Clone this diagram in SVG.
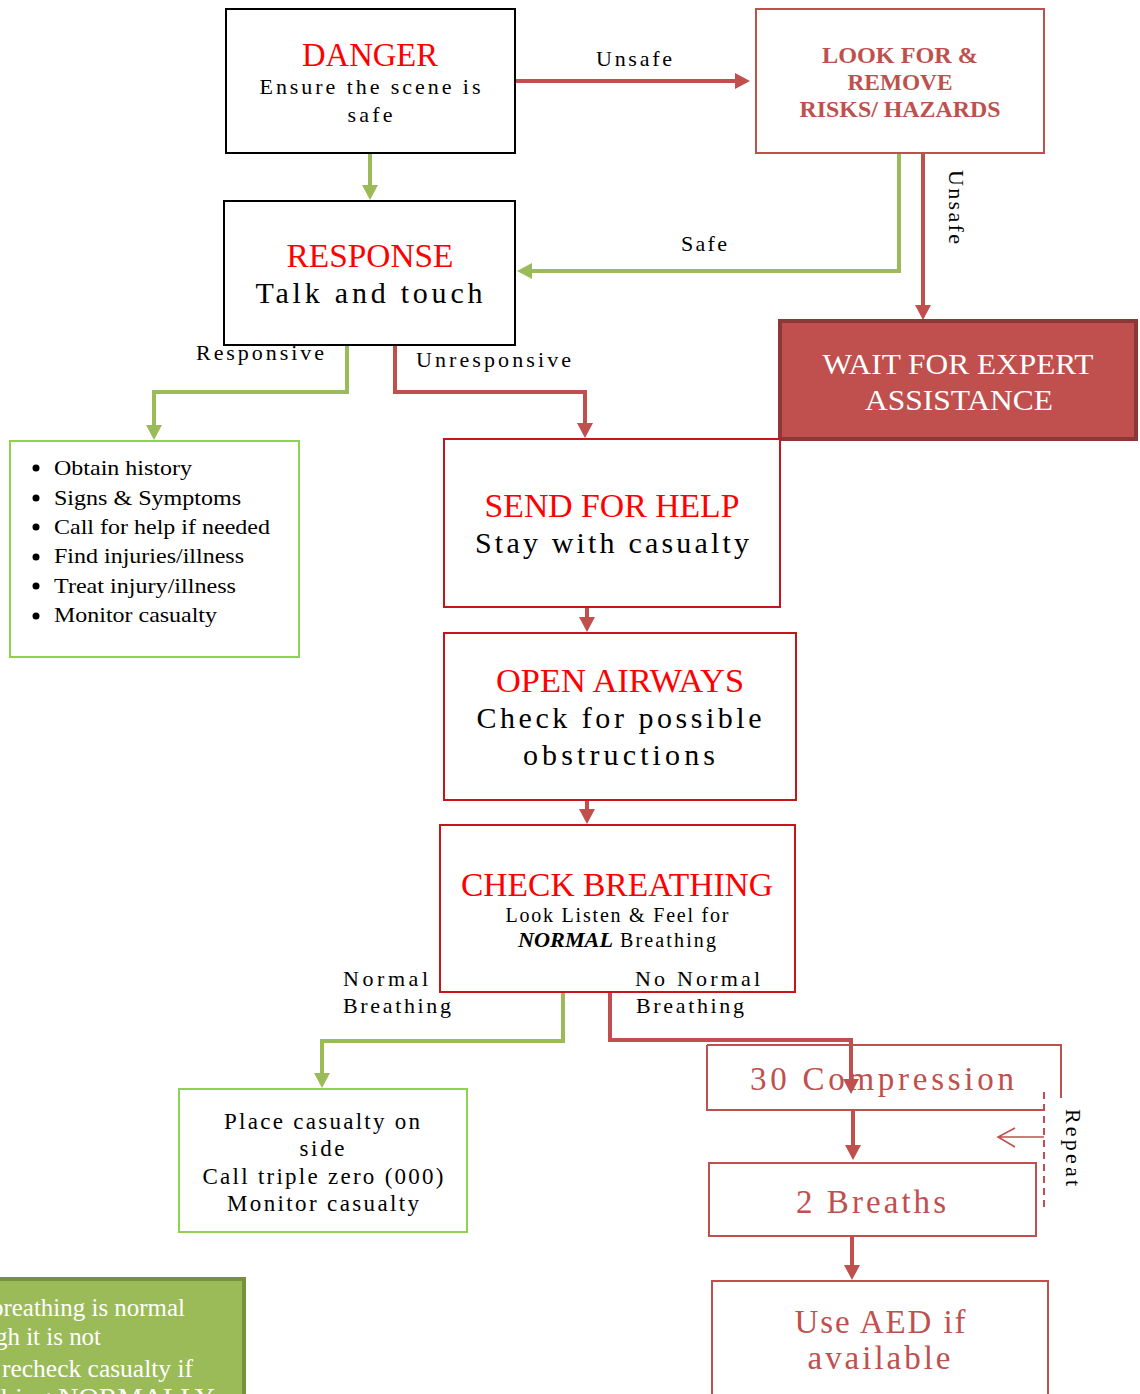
<svg xmlns="http://www.w3.org/2000/svg" width="1140" height="1394" viewBox="0 0 1140 1394">
<style>
text{font-family:"Liberation Serif","Times New Roman",serif;}
.box{fill:#fff;stroke-width:2;}
.blk{stroke:#000;}
.red{stroke:#C8141B;}
.mred{stroke:#C0504D;}
.grn{stroke:#92D050;}
.ttl{fill:#FF0000;font-size:33px;text-anchor:middle;}
.body{fill:#000;text-anchor:middle;}
.lbl{fill:#000;font-size:22px;}
.cg{fill:none;stroke:#9BBB59;stroke-width:4;marker-end:url(#ag);}
.cr{fill:none;stroke:#C0504D;stroke-width:4;marker-end:url(#ar);}
.mr{fill:#C0504D;text-anchor:middle;font-size:33px;}
</style>
<defs>
<marker id="ag" markerUnits="userSpaceOnUse" markerWidth="16" markerHeight="16" refX="0" refY="8" orient="auto"><path d="M0,0 L15,8 L0,16 z" fill="#9BBB59"/></marker>
<marker id="ar" markerUnits="userSpaceOnUse" markerWidth="16" markerHeight="16" refX="0" refY="8" orient="auto"><path d="M0,0 L15,8 L0,16 z" fill="#C0504D"/></marker>
</defs>
<rect width="1140" height="1394" fill="#fff"/>

<g id="connectors">
<path class="cr" d="M516,81 H735"/>
<path class="cg" d="M370,153 V185"/>
<path class="cg" d="M899,153 V271 H532"/>
<path class="cr" d="M923,153 V305"/>
<path class="cg" d="M347,345 V392 H154 V425"/>
<path class="cr" d="M395,345 V392 H585 V423"/>
<path class="cr" d="M587,585 V617"/>
<path class="cr" d="M587,778 V809"/>
<path class="cg" d="M563,993 V1041 H322 V1073"/>
<path class="cr" d="M610,993 V1040 H851 V1079"/>
<path class="cr" d="M853,1110 V1145"/>
<path class="cr" d="M852,1236 V1265"/>
<path d="M1044,1092 V1210 M1036,1204 H999" fill="none" stroke="#C0504D" stroke-width="2" stroke-dasharray="7,5"/>
<path d="M1044,1137 H998 M1015,1128 L998,1137 L1015,1147" fill="none" stroke="#C0504D" stroke-width="1.6"/>
</g>

<g id="danger">
<rect class="box blk" x="226" y="9" width="289" height="144"/>
<text class="ttl" x="370" y="66" textLength="136" lengthAdjust="spacingAndGlyphs">DANGER</text>
<text class="body" x="370" y="94" font-size="22" textLength="221" lengthAdjust="spacing">Ensure the scene is</text>
<text class="body" x="370" y="122" font-size="22" textLength="45" lengthAdjust="spacing">safe</text>
</g>

<g id="look-for">
<rect class="box mred" x="756" y="9" width="288" height="144"/>
<g fill="#C0504D" font-weight="bold" font-size="24" text-anchor="middle">
<text x="900" y="63" textLength="156" lengthAdjust="spacingAndGlyphs">LOOK FOR &amp;</text>
<text x="900" y="90" textLength="105" lengthAdjust="spacingAndGlyphs">REMOVE</text>
<text x="900" y="117" textLength="201" lengthAdjust="spacingAndGlyphs">RISKS/ HAZARDS</text>
</g>
</g>

<g id="response">
<rect class="box blk" x="224" y="201" width="291" height="144"/>
<text class="ttl" x="370" y="267" textLength="167" lengthAdjust="spacingAndGlyphs">RESPONSE</text>
<text class="body" x="369" y="303" font-size="30" textLength="227" lengthAdjust="spacing">Talk and touch</text>
</g>

<g id="wait">
<rect x="780" y="321" width="356" height="118" fill="#C0504D" stroke="#8C3836" stroke-width="4"/>
<text x="958" y="374" fill="#fff" font-size="30" text-anchor="middle" textLength="271" lengthAdjust="spacingAndGlyphs">WAIT FOR EXPERT</text>
<text x="959" y="410" fill="#fff" font-size="30" text-anchor="middle" textLength="188" lengthAdjust="spacingAndGlyphs">ASSISTANCE</text>
</g>

<g id="responsive-actions">
<rect class="box grn" x="10" y="441" width="289" height="216"/>
<g fill="#000">
<circle cx="36" cy="468" r="3.5"/><circle cx="36" cy="498" r="3.5"/><circle cx="36" cy="527" r="3.5"/>
<circle cx="36" cy="557" r="3.5"/><circle cx="36" cy="586" r="3.5"/><circle cx="36" cy="616" r="3.5"/>
</g>
<g fill="#000" font-size="22">
<text x="54" y="475" textLength="138" lengthAdjust="spacingAndGlyphs">Obtain history</text>
<text x="54" y="505" textLength="187" lengthAdjust="spacingAndGlyphs">Signs &amp; Symptoms</text>
<text x="54" y="534" textLength="216" lengthAdjust="spacingAndGlyphs">Call for help if needed</text>
<text x="54" y="563" textLength="190" lengthAdjust="spacingAndGlyphs">Find injuries/illness</text>
<text x="54" y="593" textLength="182" lengthAdjust="spacingAndGlyphs">Treat injury/illness</text>
<text x="54" y="622" textLength="163" lengthAdjust="spacingAndGlyphs">Monitor casualty</text>
</g>
</g>

<g id="send-for-help">
<rect class="box red" x="444" y="439" width="336" height="168"/>
<text class="ttl" x="612" y="517" textLength="255" lengthAdjust="spacingAndGlyphs">SEND FOR HELP</text>
<text class="body" x="612" y="553" font-size="30" textLength="274" lengthAdjust="spacing">Stay with casualty</text>
</g>

<g id="open-airways">
<rect class="box red" x="444" y="633" width="352" height="167"/>
<text class="ttl" x="620" y="692" textLength="248" lengthAdjust="spacingAndGlyphs">OPEN AIRWAYS</text>
<text class="body" x="619" y="728" font-size="30" textLength="285" lengthAdjust="spacing">Check for possible</text>
<text class="body" x="619" y="765" font-size="30" textLength="192" lengthAdjust="spacing">obstructions</text>
</g>

<g id="check-breathing">
<rect class="box red" x="440" y="825" width="355" height="167"/>
<text class="ttl" x="617" y="896" textLength="312" lengthAdjust="spacingAndGlyphs">CHECK BREATHING</text>
<text class="body" x="617" y="922" font-size="20" textLength="223" lengthAdjust="spacing">Look Listen &amp; Feel for</text>
<text x="518" y="947" font-size="20" font-weight="bold" font-style="italic" fill="#000" textLength="95" lengthAdjust="spacingAndGlyphs">NORMAL</text>
<text x="620" y="947" font-size="20" fill="#000" textLength="96" lengthAdjust="spacing">Breathing</text>
</g>

<g id="recovery">
<rect class="box grn" x="179" y="1089" width="288" height="143"/>
<g class="body" font-size="23">
<text x="322" y="1129" textLength="196" lengthAdjust="spacing">Place casualty on</text>
<text x="322" y="1156" textLength="45" lengthAdjust="spacing">side</text>
<text x="323" y="1184" textLength="241" lengthAdjust="spacing">Call triple zero (000)</text>
<text x="323" y="1211" textLength="192" lengthAdjust="spacing">Monitor casualty</text>
</g>
</g>

<g id="compression">
<path d="M707,1045 H1061 V1098 M707,1045 V1110 H1044" fill="none" stroke="#C0504D" stroke-width="2"/>
<text class="mr" x="882" y="1090" textLength="264" lengthAdjust="spacing">30 Compression</text>
</g>

<g id="breaths">
<rect class="box mred" x="709" y="1163" width="327" height="73" fill="none"/>
<text class="mr" x="871" y="1213" textLength="150" lengthAdjust="spacing">2 Breaths</text>
</g>

<g id="aed">
<rect class="box mred" x="712" y="1281" width="336" height="130"/>
<text class="mr" x="880" y="1333" textLength="171" lengthAdjust="spacing">Use AED if</text>
<text class="mr" x="879" y="1369" textLength="143" lengthAdjust="spacing">available</text>
</g>

<g id="note">
<rect x="-10" y="1279" width="254" height="130" fill="#9BBB59" stroke="#76923C" stroke-width="4"/>
<g fill="#fff" font-size="25" text-anchor="end">
<text x="185" y="1316" textLength="194" lengthAdjust="spacingAndGlyphs">breathing is normal</text>
<text x="101" y="1345" textLength="106" lengthAdjust="spacingAndGlyphs">gh it is not</text>
<text x="193" y="1377" textLength="191" lengthAdjust="spacingAndGlyphs">recheck casualty if</text>
<text x="215" y="1406" textLength="222" lengthAdjust="spacingAndGlyphs">thing NORMALLY</text>
</g>
</g>

<g id="connector-labels">
<text class="lbl" x="634" y="66" text-anchor="middle" textLength="76" lengthAdjust="spacing">Unsafe</text>
<text class="lbl" transform="translate(949,170) rotate(90)" textLength="74" lengthAdjust="spacing">Unsafe</text>
<text class="lbl" x="704" y="251" text-anchor="middle" textLength="46" lengthAdjust="spacing">Safe</text>
<text class="lbl" x="196" y="360" textLength="128" lengthAdjust="spacing">Responsive</text>
<text class="lbl" x="416" y="367" textLength="155" lengthAdjust="spacing">Unresponsive</text>
<text class="lbl" x="343" y="986" textLength="85" lengthAdjust="spacing">Normal</text>
<text class="lbl" x="343" y="1013" textLength="108" lengthAdjust="spacing">Breathing</text>
<text class="lbl" x="635" y="986" textLength="125" lengthAdjust="spacing">No Normal</text>
<text class="lbl" x="636" y="1013" textLength="108" lengthAdjust="spacing">Breathing</text>
<text class="lbl" transform="translate(1066,1109) rotate(90)" textLength="77" lengthAdjust="spacing">Repeat</text>
</g>
</svg>
